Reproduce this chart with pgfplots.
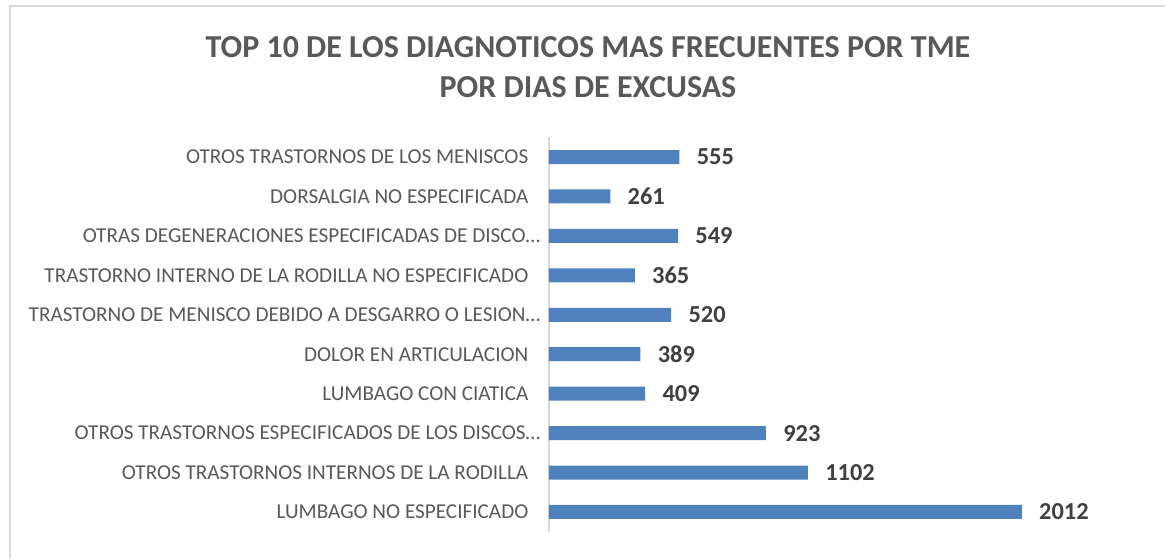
\documentclass[border=0pt]{standalone}
\usepackage{fontspec}
\setmainfont{Carlito}
\usepackage{pgfplots}
\pgfplotsset{compat=1.18}
\definecolor{barblue}{HTML}{4F81BD}
\definecolor{txtgray}{HTML}{595959}
\definecolor{valgray}{HTML}{404040}
\definecolor{framegray}{HTML}{D9D9D9}
\begin{document}
\begin{tikzpicture}
\begin{axis}[
  name=ax, at={(0,0)}, anchor=south west,
  scale only axis, width=282pt, height=197.2pt,
  xmin=0, xmax=2400, ymin=-0.5, ymax=9.5,
  xbar, bar width=7pt,
  axis x line=none, axis y line=left,
  axis line style={-}, y axis line style={draw=framegray, line width=0.7pt},
  ytick={0,...,9},
  yticklabels={LUMBAGO NO ESPECIFICADO,
    OTROS TRASTORNOS INTERNOS DE LA RODILLA,
    OTROS TRASTORNOS ESPECIFICADOS DE LOS DISCOS…\kern-6pt,
    LUMBAGO CON CIATICA,
    DOLOR EN ARTICULACION,
    TRASTORNO DE MENISCO DEBIDO A DESGARRO O LESION…\kern-6pt,
    TRASTORNO INTERNO DE LA RODILLA NO ESPECIFICADO,
    OTRAS DEGENERACIONES ESPECIFICADAS DE DISCO…\kern-6pt,
    DORSALGIA NO ESPECIFICADA,
    OTROS TRASTORNOS DE LOS MENISCOS},
  ytick style={draw=none},
  yticklabel style={font=\fontsize{10.6}{13}\selectfont, text=txtgray, inner sep=0pt, xshift=-8pt, anchor=east},
  /pgf/number format/1000 sep={},
  /pgf/number format/assume math mode=true,
  nodes near coords,
  every node near coord/.append style={font=\fontsize{12.2}{15}\selectfont\bfseries, text=valgray, anchor=west, inner sep=0pt, xshift=8.5pt},
]
\addplot[fill=barblue, draw=none] coordinates {
  (2012,0) (1102,1) (923,2) (409,3) (389,4) (520,5) (365,6) (549,7) (261,8) (555,9)
};
\end{axis}
\pgfresetboundingbox
\begin{scope}[shift={(ax.south west)}, x=1pt, y=1pt]
\begin{scope}[shift={(-274.5,-13.15)}]
\useasboundingbox (0,0) rectangle (582.5,279);
\draw[framegray, line width=0.7pt] (5,0) -- (5,276) -- (582.5,276);
\node[txtgray, font=\fontsize{16}{20}\selectfont\bfseries, align=center] at (294,245.5)
  {TOP 10 DE LOS DIAGNOTICOS MAS FRECUENTES POR TME\\POR DIAS DE EXCUSAS};
\end{scope}
\end{scope}
\end{tikzpicture}
\end{document}
